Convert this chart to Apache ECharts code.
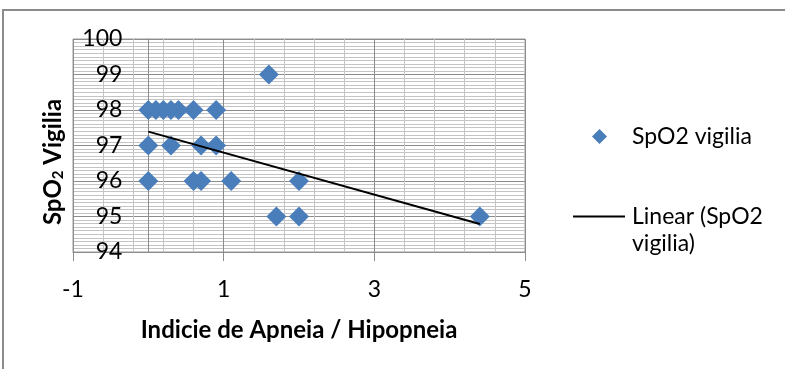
<!DOCTYPE html>
<html>
<head>
<meta charset="utf-8">
<script src="https://cdn.jsdelivr.net/npm/echarts@6/dist/echarts.min.js"></script>
<style>
html,body{margin:0;padding:0;background:#fff;}
#chart{width:785px;height:369px;}
</style>
</head>
<body>
<div id="chart"></div>
<script>
// Data
const seriesName = 'SpO2 vigilia';
const trendName = 'Linear (SpO2 vigilia)';
const xTitle = 'Indicie de Apneia / Hipopneia';
const iahValues  = [0, 0.1, 0.2, 0.3, 0.4, 0.6, 0.9, 1.6, 0, 0.3, 0.7, 0.9, 0, 0.6, 0.7, 1.1, 2.0, 1.7, 2.0, 4.4];
const spo2Values = [98, 98, 98, 98, 98, 98, 98, 99, 97, 97, 97, 97, 96, 96, 96, 96, 96, 95, 95, 95];
const trendX = [0, 4.4];
const trendY = [97.39, 94.79];
const xRange = [-1, 5, 2];   // min, max, interval
const yRange = [94, 100, 1];
const yAxisCrossAt = 0;      // vertical axis crosses the x axis at this value

const FONT = 'Lato, "Open Sans", sans-serif';
const scatterData = iahValues.map((x, i) => [x, spo2Values[i]]);
const trendData = trendX.map((x, i) => [x, trendY[i]]);

const GRID = {left: 73, right: 260, top: 39, bottom: 117};
const plotW = 785 - GRID.left - GRID.right;
const yOffset = -plotW * (yAxisCrossAt - xRange[0]) / (xRange[1] - xRange[0]);

const chart = echarts.init(document.getElementById('chart'), null, {renderer: 'canvas'});
chart.setOption({
  animation: false,
  backgroundColor: '#fff',
  textStyle: {fontFamily: FONT},
  graphic: [
    {type: 'rect', shape: {x: 3, y: 10, width: 1000, height: 1000},
     style: {fill: 'none', stroke: '#8c8c8c', lineWidth: 2}, silent: true, z: -10},
    {type: 'text', x: 53, y: 162, rotation: Math.PI / 2,
     style: {text: 'SpO{s|2} Vigilia', font: 'bold 24px ' + FONT, fill: '#000',
             align: 'center', verticalAlign: 'middle',
             rich: {s: {fontSize: 15, fontWeight: 'bold', fontFamily: FONT, padding: [11, 0, 0, 0]}}}}
  ],
  grid: Object.assign({show: true, borderColor: '#9a9a9a', borderWidth: 1, containLabel: false}, GRID),
  xAxis: {
    type: 'value', min: xRange[0], max: xRange[1], interval: xRange[2],
    name: xTitle, nameLocation: 'middle', nameGap: 66,
    nameTextStyle: {fontSize: 24, fontWeight: 'bold', color: '#000', fontFamily: FONT},
    axisLine: {show: true, onZero: false, lineStyle: {color: '#8c8c8c', width: 1}},
    axisTick: {show: true, inside: false, length: 9, lineStyle: {color: '#8c8c8c'}},
    axisLabel: {fontSize: 23, color: '#000', margin: 26, fontFamily: FONT},
    splitLine: {show: true, lineStyle: {color: '#8c8c8c', width: 1}},
    minorTick: {show: false, splitNumber: 5},
    minorSplitLine: {show: true, lineStyle: {color: '#c4c4c4', width: 1}}
  },
  yAxis: {
    type: 'value', min: yRange[0], max: yRange[1], interval: yRange[2],
    offset: yOffset,
    axisLine: {show: true, onZero: false, lineStyle: {color: '#8c8c8c', width: 1}},
    axisTick: {show: false},
    axisLabel: {fontSize: 23, color: '#000', margin: 26, fontFamily: FONT},
    splitLine: {show: true, lineStyle: {color: '#8c8c8c', width: 1}},
    minorTick: {show: false, splitNumber: 10},
    minorSplitLine: {show: true, lineStyle: {color: '#c4c4c4', width: 1}}
  },
  legend: [
    {data: [{name: seriesName, icon: 'diamond'}], orient: 'vertical', left: 592, top: 125,
     padding: 0, itemWidth: 15, itemHeight: 15,
     textStyle: {fontSize: 23, color: '#000', fontFamily: FONT, padding: [0, 0, 0, 20]}},
    {data: [{name: trendName, icon: 'rect'}], orient: 'vertical', left: 573, top: 176,
     padding: 0, itemWidth: 52, itemHeight: 2,
     formatter: function () { return '\nLinear (SpO2\nvigilia)'; },
     textStyle: {fontSize: 23, color: '#000', fontFamily: FONT, lineHeight: 27, padding: [0, 0, 0, 2]}}
  ],
  series: [
    {name: seriesName, type: 'scatter', data: scatterData, symbol: 'diamond', symbolSize: 20,
     itemStyle: {color: '#4a7ebb', opacity: 1}, z: 3},
    {name: trendName, type: 'line', data: trendData, symbol: 'none', showSymbol: false,
     lineStyle: {color: '#000', width: 2}, itemStyle: {color: '#000'}, z: 4}
  ]
});
</script>
</body>
</html>
